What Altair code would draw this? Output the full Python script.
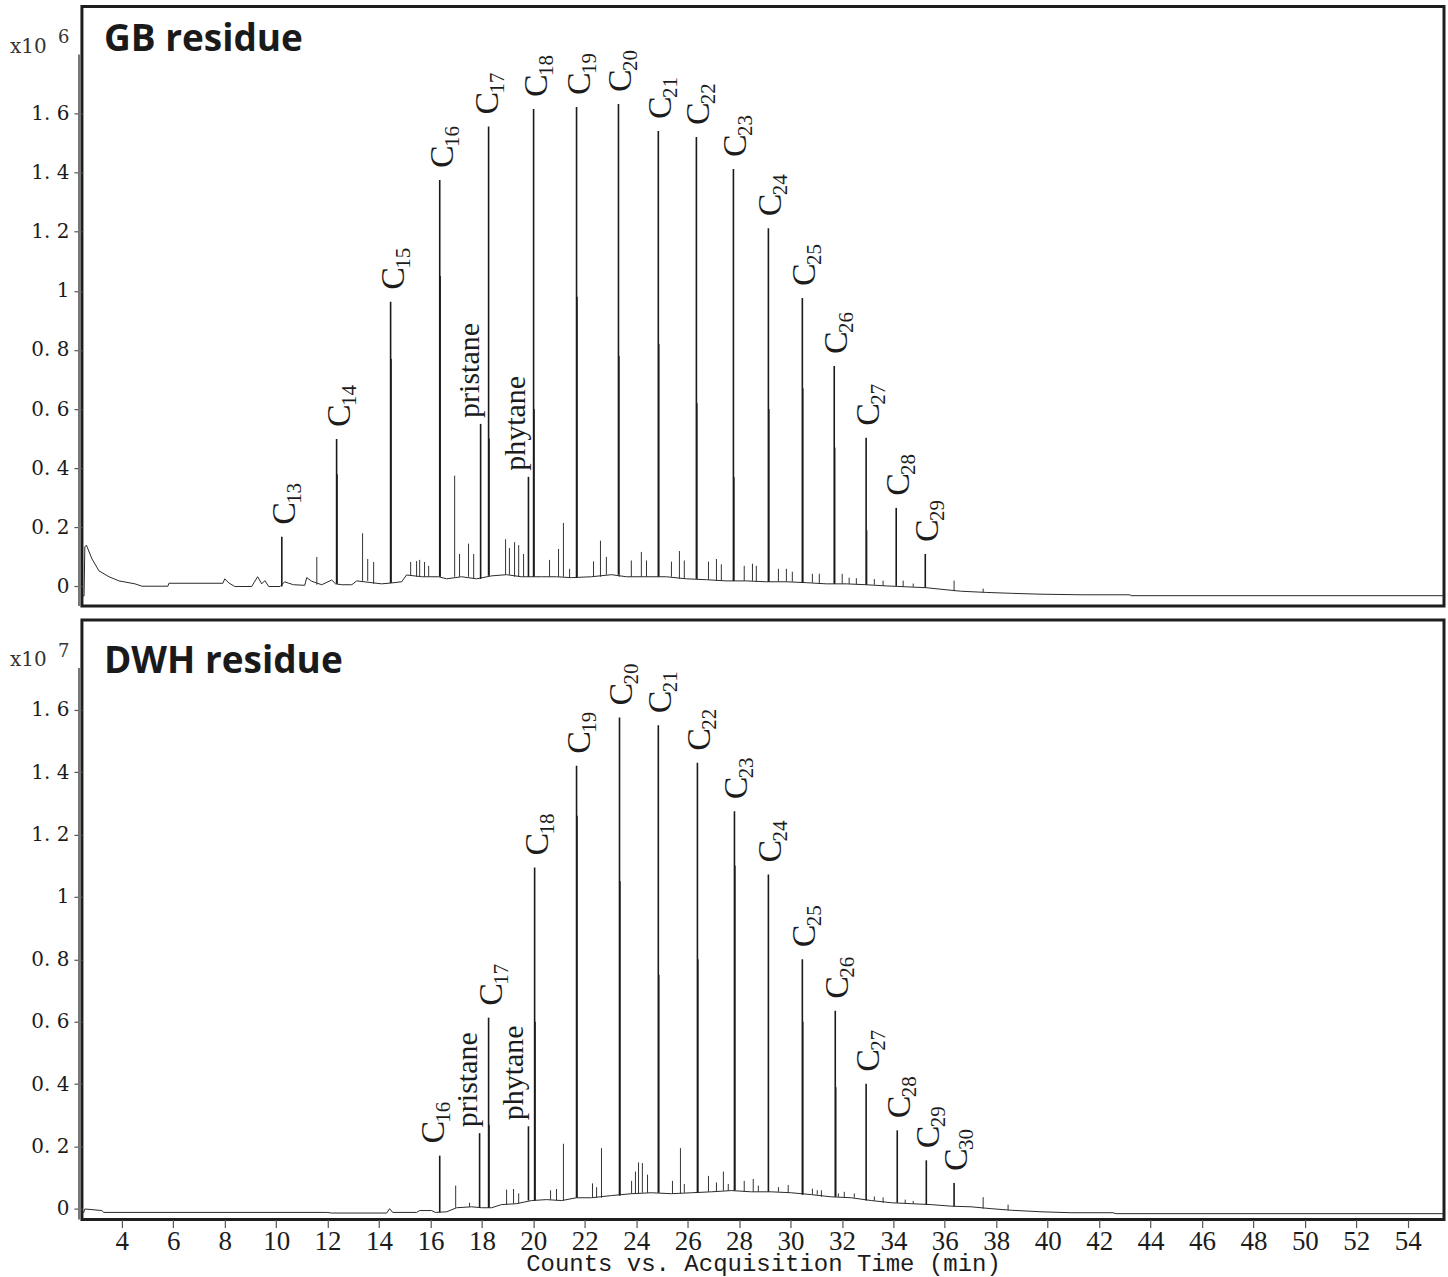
import altair as alt
import pandas as pd

# ---------------- shared axis values ----------------
x_domain = [2.448, 55.41]
x_ticks = list(range(4, 56, 2))
y_ticks = [0, 0.2, 0.4, 0.6, 0.8, 1.0, 1.2, 1.4, 1.6]

# ---------------- GB residue (x10^6) ----------------
gb_y_domain = [-0.066, 1.962]
gb_base_t = [2.45, 2.53, 2.56, 2.62, 2.84, 3.11, 3.50, 3.89, 4.51, 4.78, 5.79, 5.83, 7.93, 8.00, 8.16,
             8.39, 9.05, 9.13, 9.28, 9.44, 9.56, 9.71, 10.15, 10.33, 10.49, 10.68, 11.11, 11.19, 11.38,
             11.77, 12.16, 12.31, 12.55, 12.94, 13.13, 14.10, 14.49, 14.88, 15.07, 15.66, 16.32, 16.63,
             17.21, 17.79, 18.38, 18.96, 19.54, 20.32, 20.90, 21.48, 22.26, 23.04, 23.62, 24.40, 25.17,
             25.95, 26.73, 27.50, 28.28, 29.06, 29.84, 30.61, 31.39, 32.17, 32.94, 33.72, 34.50, 35.27,
             36.05, 36.64, 37.61, 38.58, 39.74, 41.30, 43.20, 43.24, 55.41]
gb_base_v = [-0.032, -0.032, 0.134, 0.14, 0.093, 0.053, 0.033, 0.019, 0.009, 0.001, 0.001, 0.011, 0.011,
             0.026, 0.012, 0.0, 0.0, 0.012, 0.033, 0.009, 0.02, 0.0, 0.0, 0.016, 0.011, 0.006, 0.004, 0.03,
             0.018, 0.006, 0.022, 0.009, 0.006, 0.006, 0.019, 0.009, 0.012, 0.016, 0.039, 0.033, 0.033,
             0.026, 0.033, 0.026, 0.036, 0.04, 0.033, 0.033, 0.033, 0.03, 0.033, 0.04, 0.033, 0.033, 0.033,
             0.026, 0.023, 0.019, 0.019, 0.016, 0.016, 0.013, 0.009, 0.009, 0.006, 0.002, -0.001, -0.004,
             -0.011, -0.016, -0.02, -0.023, -0.026, -0.028, -0.028, -0.031, -0.031]
gb_major_name = ["C13", "C14", "C15", "C16", "pristane", "C17", "phytane", "C18", "C19", "C20", "C21",
                 "C22", "C23", "C24", "C25", "C26", "C27", "C28", "C29"]
gb_major_t = [10.22, 12.35, 14.45, 16.36, 17.95, 18.26, 19.81, 20.01, 21.68, 23.31, 24.86, 26.34, 27.78,
              29.14, 30.46, 31.70, 32.94, 34.11, 35.24]
gb_major_h = [0.168, 0.499, 0.963, 1.375, 0.55, 1.556, 0.371, 1.615, 1.622, 1.632, 1.541, 1.52, 1.412,
              1.212, 0.976, 0.746, 0.503, 0.266, 0.11]
gb_minor_t = [13.36, 13.56, 13.79, 11.58, 15.23, 15.46, 15.58, 15.77, 15.93, 16.94, 17.13, 17.48, 17.68,
              18.92, 19.07, 19.27, 19.43, 19.62, 20.63, 20.98, 21.17, 21.41, 22.34, 22.61, 22.84, 23.81,
              24.20, 24.40, 25.37, 25.68, 25.87, 26.81, 27.12, 27.31, 28.20, 28.52, 28.67, 29.53, 29.84,
              30.07, 30.85, 31.12, 32.01, 32.28, 32.56, 33.26, 33.60, 34.38, 34.77, 36.36, 37.49,
              12.38, 14.48, 16.39, 18.29, 20.04, 21.71, 23.34, 24.89, 26.37, 27.81, 29.17, 30.49, 31.73, 32.97]
gb_minor_h = [0.18, 0.093, 0.083, 0.10, 0.083, 0.086, 0.09, 0.083, 0.07, 0.375, 0.11, 0.145, 0.11,
              0.16, 0.13, 0.15, 0.14, 0.11, 0.09, 0.127, 0.215, 0.06, 0.085, 0.155, 0.10, 0.088,
              0.117, 0.088, 0.084, 0.12, 0.088, 0.084, 0.093, 0.075, 0.07, 0.077, 0.07, 0.06, 0.06,
              0.05, 0.043, 0.043, 0.043, 0.03, 0.028, 0.025, 0.02, 0.02, 0.01, 0.02, -0.007,
              0.38, 0.77, 1.05, 0.50, 0.60, 0.98, 0.78, 0.82, 0.62, 0.37, 0.60, 0.67, 0.47, 0.19]

# ---------------- DWH residue (x10^7) ----------------
dwh_y_domain = [-0.034, 1.887]
dwh_base_t = [2.51, 2.56, 2.84, 3.22, 3.30, 11.97, 12.16, 14.30, 14.41, 14.53, 15.46, 15.58, 16.04, 16.19,
              16.63, 17.02, 17.60, 17.99, 18.38, 18.76, 19.35, 19.93, 20.51, 21.10, 21.68, 22.26, 23.04,
              23.82, 24.59, 25.37, 26.15, 26.92, 27.70, 28.48, 29.25, 30.03, 30.81, 31.58, 32.36, 33.14,
              33.92, 34.69, 35.47, 36.25, 37.02, 37.80, 38.58, 39.74, 40.91, 42.54, 42.66, 55.41]
dwh_base_v = [-0.013, 0.0, -0.002, -0.005, -0.011, -0.011, -0.013, -0.013, 0.001, -0.011, -0.011, -0.005,
              -0.005, -0.011, -0.009, 0.004, 0.007, 0.004, 0.004, 0.014, 0.017, 0.027, 0.03, 0.027, 0.036,
              0.036, 0.043, 0.049, 0.052, 0.049, 0.052, 0.055, 0.059, 0.055, 0.055, 0.052, 0.046, 0.039,
              0.036, 0.027, 0.02, 0.017, 0.014, 0.009, 0.007, 0.001, -0.004, -0.009, -0.012, -0.012,
              -0.015, -0.015]
dwh_major_name = ["C16", "pristane", "C17", "phytane", "C18", "C19", "C20", "C21", "C22", "C23", "C24",
                  "C25", "C26", "C27", "C28", "C29", "C30"]
dwh_major_t = [16.36, 17.91, 18.26, 19.81, 20.05, 21.68, 23.35, 24.86, 26.38, 27.82, 29.14, 30.46, 31.74,
               32.94, 34.15, 35.28, 36.36]
dwh_major_h = [0.171, 0.243, 0.613, 0.265, 1.094, 1.42, 1.575, 1.55, 1.43, 1.274, 1.072, 0.80, 0.635,
               0.401, 0.252, 0.156, 0.083]
dwh_minor_t = [16.98, 17.52, 18.96, 19.23, 19.43, 20.67, 20.90, 21.17, 22.30, 22.46, 22.65, 23.82, 23.97,
               24.09, 24.24, 24.44, 25.41, 25.72, 25.87, 26.81, 27.12, 27.39, 27.58, 28.20, 28.55, 28.75,
               29.53, 29.91, 30.85, 31.04, 31.20, 31.86, 32.09, 32.48, 33.26, 33.60, 34.46, 34.77, 37.49,
               38.46, 18.29, 20.08, 21.71, 23.38, 24.89, 26.41, 27.85, 30.49, 31.77]
dwh_minor_h = [0.075, 0.02, 0.062, 0.064, 0.05, 0.06, 0.064, 0.209, 0.082, 0.07, 0.195, 0.09, 0.12,
               0.149, 0.147, 0.11, 0.09, 0.195, 0.08, 0.106, 0.085, 0.12, 0.08, 0.09, 0.096, 0.075,
               0.07, 0.077, 0.065, 0.06, 0.06, 0.05, 0.055, 0.05, 0.04, 0.037, 0.03, 0.026, 0.038,
               0.014, 0.27, 0.60, 1.26, 1.05, 0.75, 0.80, 1.10, 0.60, 0.39]

# label nudges in screen pixels (horizontal)
gb_label_shift = {"C17": -4, "phytane": -1}
dwh_label_shift = {"C16": -9, "pristane": -1, "phytane": -3}

W = 1363
H = 600
PX_PER_MIN = W / (x_domain[1] - x_domain[0])
INK = "#1c1c1c"


def panel(base_t, base_v, maj_t, maj_h, maj_name, min_t, min_h, ydom, exponent, title, title_base,
          shifts, show_x):
    base = pd.DataFrame({"t": base_t, "v": base_v}).sort_values("t")
    maj = pd.DataFrame({"t": maj_t, "h": maj_h, "name": maj_name}).sort_values("t")
    maj = pd.merge_asof(maj, base, on="t", direction="nearest")
    mino = pd.DataFrame({"t": min_t, "h": min_h}).sort_values("t")
    mino = pd.merge_asof(mino, base, on="t", direction="nearest")
    maj["lt"] = maj["t"] + maj["name"].map(shifts).fillna(0) / PX_PER_MIN
    maj["sub"] = maj["name"].str[1:]
    carb = maj[maj["name"].str.startswith("C")]
    names = maj[~maj["name"].str.startswith("C")]

    if show_x:
        xaxis = alt.Axis(values=x_ticks, format="d", labelFont="Liberation Serif", labelFontSize=27,
                         labelColor=INK, tickColor="#555", tickSize=8, tickWidth=1.2, domain=False,
                         grid=False, labelPadding=1, labelFlush=False,
                         title="Counts vs. Acquisition Time (min)", titleFont="Liberation Mono",
                         titleFontSize=24, titleFontWeight="normal", titleColor=INK, titleY=51,
                         titleBaseline="alphabetic")
    else:
        xaxis = None
    yaxis = alt.Axis(values=y_ticks, labelExpr="replace(format(datum.value, '.1~f'), '.', '. ')",
                     labelFont="DejaVu Serif", labelFontSize=20, labelColor=INK, tickColor="#555",
                     tickSize=8, tickWidth=1.2, domain=False, grid=False, labelPadding=5, title=None)
    xs = alt.Scale(domain=x_domain, nice=False, zero=False)
    ys = alt.Scale(domain=ydom, nice=False, zero=False)

    def X(f):
        return alt.X(f"{f}:Q", scale=xs, axis=xaxis)

    def Y(f):
        return alt.Y(f"{f}:Q", scale=ys, axis=yaxis)

    line = alt.Chart(base).mark_line(color="#2a2a2a", strokeWidth=1).encode(x=X("t"), y=Y("v"))
    minor = alt.Chart(mino).mark_rule(color="#333", strokeWidth=1).encode(
        x=X("t"), y=Y("h"), y2="v")
    major = alt.Chart(maj).mark_rule(color="#1a1a1a", strokeWidth=1.6).encode(
        x=X("t"), y=Y("h"), y2="v")
    c_lab = alt.Chart(carb).mark_text(text="C", font="Liberation Serif", fontSize=34, angle=270,
                                      align="left", baseline="alphabetic", dx=12, dy=13,
                                      color=INK).encode(x=X("lt"), y=Y("h"))
    c_sub = alt.Chart(carb).mark_text(font="Liberation Serif", fontSize=21, angle=270, align="left",
                                      baseline="alphabetic", dx=33, dy=19, color=INK).encode(
        x=X("lt"), y=Y("h"), text="sub:N")
    n_lab = alt.Chart(names).mark_text(font="Liberation Serif", fontSize=30, angle=270, align="left",
                                       baseline="alphabetic", dx=6, dy=-2, color=INK).encode(
        x=X("lt"), y=Y("h"), text="name:N")

    one = pd.DataFrame({"a": [0]})
    exp_x = alt.Chart(one).mark_text(text="x10", font="DejaVu Serif", fontSize=20, align="left",
                                     baseline="alphabetic", color="#333").encode(
        x=alt.value(-72), y=alt.value(46.5))
    exp_n = alt.Chart(one).mark_text(text=exponent, font="DejaVu Serif", fontSize=18, align="left",
                                     baseline="alphabetic", color="#333").encode(
        x=alt.value(-24), y=alt.value(37))
    ttl = alt.Chart(one).mark_text(text=title, font="Open Sans", fontWeight="bold", fontSize=37,
                                   align="left", baseline="alphabetic", color="#1a1a1a").encode(
        x=alt.value(22), y=alt.value(title_base))
    ydom_line = alt.Chart(one).mark_rule(color="#777", strokeWidth=2.5).encode(
        x=alt.value(-2.7), y=alt.value(48), y2=alt.value(H))

    return alt.layer(line, minor, major, c_lab, c_sub, n_lab, exp_x, exp_n, ttl, ydom_line).properties(
        width=W, height=H)


top = panel(gb_base_t, gb_base_v, gb_major_t, gb_major_h, gb_major_name, gb_minor_t, gb_minor_h,
            gb_y_domain, "6", "GB residue", 45, gb_label_shift, False)
bottom = panel(dwh_base_t, dwh_base_v, dwh_major_t, dwh_major_h, dwh_major_name, dwh_minor_t, dwh_minor_h,
               dwh_y_domain, "7", "DWH residue", 53, dwh_label_shift, True)

chart = alt.vconcat(top, bottom, spacing=9).properties(
    padding={"left": 8, "top": 4, "right": 0, "bottom": 0},
    background="white",
).configure_view(stroke="#1e1e1e", strokeWidth=3)

chart.save("out.html", embed_options={"renderer": "svg", "actions": False})
